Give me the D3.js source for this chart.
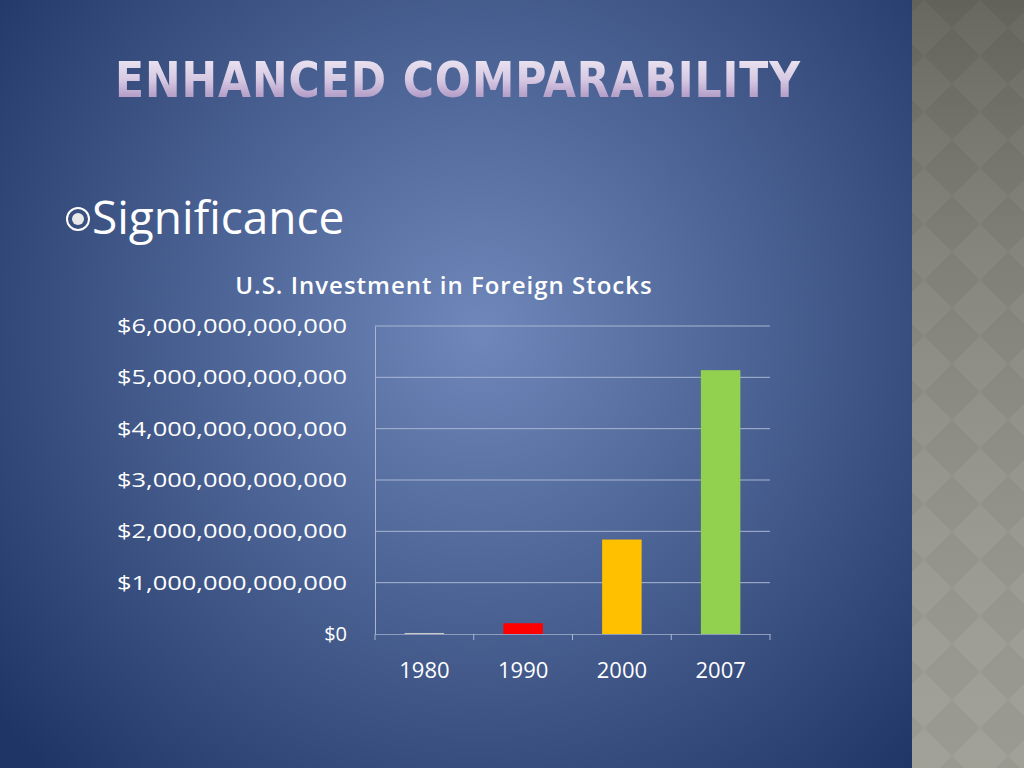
<!DOCTYPE html>
<html><head><meta charset="utf-8">
<script src="https://cdn.jsdelivr.net/npm/d3@7"></script>
<style>body{margin:0;overflow:hidden}svg{display:block}</style>
</head><body><svg width="1024" height="768"></svg>
<script>
const years = ['1980', '1990', '2000', '2007'];
const values = [20e9, 210e9, 1840e9, 5140e9];
const colors = ['#c8c8c8', '#ff0000', '#ffc000', '#92d050'];
const yTicks = [0, 1e12, 2e12, 3e12, 4e12, 5e12, 6e12];

const svg = d3.select('svg');
const defs = svg.append('defs');

const bg = defs.append('radialGradient').attr('id', 'bg')
  .attr('cx', 480).attr('cy', 330).attr('r', 620).attr('gradientUnits', 'userSpaceOnUse');
bg.append('stop').attr('offset', '0%').attr('stop-color', '#6f87ba');
bg.append('stop').attr('offset', '100%').attr('stop-color', '#1f3565');

const tg = defs.append('linearGradient').attr('id', 'tg').attr('x1', 0).attr('x2', 0).attr('y1', 0).attr('y2', 1);
tg.append('stop').attr('offset', '0%').attr('stop-color', '#f2eef6');
tg.append('stop').attr('offset', '50%').attr('stop-color', '#d6c8e2');
tg.append('stop').attr('offset', '100%').attr('stop-color', '#9a7fb4');

const pat = defs.append('pattern').attr('id', 'dia').attr('width', 56).attr('height', 56)
  .attr('patternUnits', 'userSpaceOnUse');
pat.append('rect').attr('width', 56).attr('height', 56).attr('fill', '#8c8c82');
pat.append('path').attr('d', 'M28,0 L56,28 L28,56 L0,28 Z').attr('fill', '#94948a');

svg.append('rect').attr('width', 1024).attr('height', 768).attr('fill', 'url(#bg)');
svg.append('rect').attr('x', 912).attr('width', 112).attr('height', 768).attr('fill', 'url(#dia)');
const sg = defs.append('linearGradient').attr('id', 'sg').attr('x1', 0).attr('x2', 0).attr('y1', 0).attr('y2', 1);
sg.append('stop').attr('offset', '0%').attr('stop-color', '#000').attr('stop-opacity', 0.3);
sg.append('stop').attr('offset', '100%').attr('stop-color', '#fff').attr('stop-opacity', 0.12);
svg.append('rect').attr('x', 912).attr('width', 112).attr('height', 768).attr('fill', 'url(#sg)');

svg.append('text').attr('x', 458).attr('y', 97).attr('text-anchor', 'middle')
  .attr('font-family', 'DejaVu Sans Condensed, sans-serif').attr('font-weight', 'bold')
  .attr('font-size', 50).attr('fill', 'url(#tg)').attr('letter-spacing', 1)
  .attr('textLength', 686).attr('lengthAdjust', 'spacingAndGlyphs')
  .text('ENHANCED COMPARABILITY');

svg.append('circle').attr('cx', 78).attr('cy', 219).attr('r', 11).attr('fill', 'none').attr('stroke', '#fff').attr('stroke-width', 2);
svg.append('circle').attr('cx', 78).attr('cy', 219).attr('r', 6).attr('fill', '#e8e8e8');
svg.append('text').attr('x', 92).attr('y', 234).attr('font-family', 'Open Sans, sans-serif')
  .attr('font-size', 46).attr('fill', '#fff').text('Significance');

svg.append('text').attr('x', 444).attr('y', 294).attr('text-anchor', 'middle')
  .attr('font-family', 'Open Sans, sans-serif').attr('font-weight', 600)
  .attr('font-size', 24).attr('fill', '#fff').attr('letter-spacing', 1).text('U.S. Investment in Foreign Stocks');

const x = d3.scaleBand().domain(years).range([375, 770]).paddingInner(0.6).paddingOuter(0.3);
const y = d3.scaleLinear().domain([0, 6e12]).range([634, 326]);
const band = d3.scaleBand().domain(years).range([375, 770]);

svg.append('g').selectAll('line').data(yTicks.slice(1)).join('line')
  .attr('x1', 375).attr('x2', 770).attr('y1', d => y(d)).attr('y2', d => y(d))
  .attr('stroke', '#a9b6d3').attr('stroke-width', 1);

const fmt = d => '$' + d3.format(',.0f')(d);
const ya = svg.append('g').attr('transform', 'translate(375,0)')
  .call(d3.axisLeft(y).tickValues(yTicks).tickFormat(fmt).tickSize(0).tickPadding(28));
ya.select('.domain').attr('stroke', '#a9b6d3');
ya.selectAll('text').attr('fill', '#fff').attr('font-family', 'Open Sans, sans-serif').attr('font-size', 20)
  .attr('textLength', function() { return this.textContent.length > 3 ? 230 : null; })
  .attr('lengthAdjust', 'spacingAndGlyphs');

svg.append('g').selectAll('rect').data(years).join('rect')
  .attr('x', d => x(d)).attr('width', x.bandwidth())
  .attr('y', (d, i) => y(values[i])).attr('height', (d, i) => 634 - y(values[i]))
  .attr('fill', (d, i) => colors[i]);

const xa = svg.append('g').attr('transform', 'translate(0,634)')
  .call(d3.axisBottom(band).tickSize(0).tickPadding(28));
xa.select('.domain').attr('stroke', '#8e9cbf');
xa.selectAll('text').attr('fill', '#fff').attr('font-family', 'Open Sans, sans-serif').attr('font-size', 22);
svg.append('g').selectAll('line').data([375, ...years.map(d => band(d) + band.bandwidth())]).join('line')
  .attr('x1', d => d).attr('x2', d => d).attr('y1', 634).attr('y2', 640).attr('stroke', '#a9b6d3');
</script></body></html>
